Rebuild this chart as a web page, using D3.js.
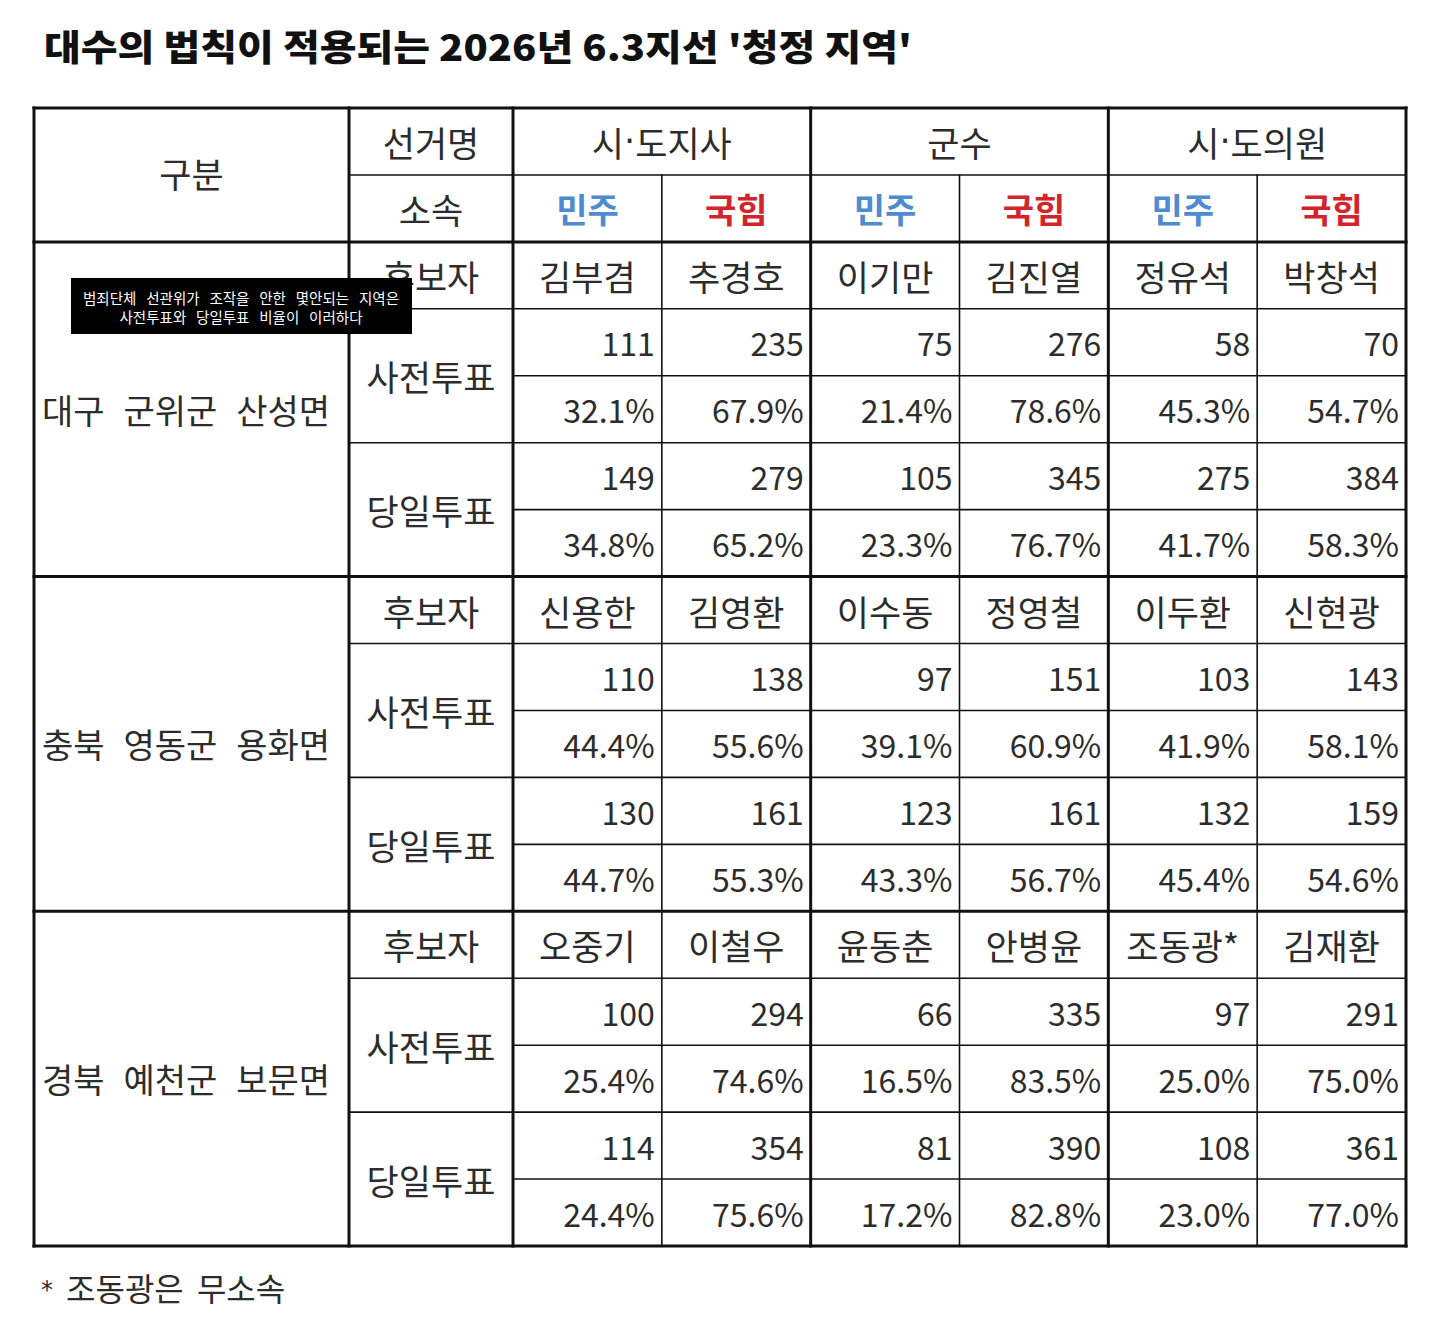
<!DOCTYPE html>
<html><head><meta charset="utf-8">
<script src="https://cdn.jsdelivr.net/npm/d3@7"></script>
<style>html,body{margin:0;padding:0;background:#fff;}svg{display:block;}</style>
</head><body>
<svg id="chart" width="1439" height="1329"></svg>
<script>
const title = "대수의 법칙이 적용되는 2026년 6.3지선 '청정 지역'";
const headerLabels = ["구분", "선거명", "소속"];
const elections = ["시·도지사", "군수", "시·도의원"];
const parties = ["민주", "국힘"];
const rowLabels = ["후보자", "사전투표", "당일투표"];
const regions = ["대구 군위군 산성면", "충북 영동군 용화면", "경북 예천군 보문면"];
const candidates = [
  ["김부겸", "추경호", "이기만", "김진열", "정유석", "박창석"],
  ["신용한", "김영환", "이수동", "정영철", "이두환", "신현광"],
  ["오중기", "이철우", "윤동춘", "안병윤", "조동광*", "김재환"]
];
const earlyVotes = [
  [111, 235, 75, 276, 58, 70],
  [110, 138, 97, 151, 103, 143],
  [100, 294, 66, 335, 97, 291]
];
const earlyPct = [
  [32.1, 67.9, 21.4, 78.6, 45.3, 54.7],
  [44.4, 55.6, 39.1, 60.9, 41.9, 58.1],
  [25.4, 74.6, 16.5, 83.5, 25.0, 75.0]
];
const dayVotes = [
  [149, 279, 105, 345, 275, 384],
  [130, 161, 123, 161, 132, 159],
  [114, 354, 81, 390, 108, 361]
];
const dayPct = [
  [34.8, 65.2, 23.3, 76.7, 41.7, 58.3],
  [44.7, 55.3, 43.3, 56.7, 45.4, 54.6],
  [24.4, 75.6, 17.2, 82.8, 23.0, 77.0]
];
const annotation = ["범죄단체 선관위가 조작을 안한 몇안되는 지역은", "사전투표와 당일투표 비율이 이러하다"];
const footnote = "* 조동광은 무소속";

const svg = d3.select("#chart");
const FONT = "'Noto Sans CJK KR','Noto Sans',sans-serif";
const TXT = "#2c2c2c";
const BLUE = "#4f8bd0";
const RED = "#d3242c";
const HANGUL = 35, NUM = 32;

// scales
const nRows = 2 + regions.length * 5;
const y = d3.scaleLinear().domain([0, nRows]).range([108, 1246]);
const xLab = d3.scaleOrdinal().domain(["region", "label", "data"]).range([34, 349, 513]);
const xData = d3.scaleBand().domain(d3.range(6)).range([513, 1406]);
const xElec = d3.scaleBand().domain(elections).range([513, 1406]);
const LEFT = 34, RIGHT = 1406;

function fitWords(sel, target) {
  sel.each(function () {
    const len = this.getComputedTextLength();
    const n = d3.select(this).text().split(" ").length - 1;
    if (n > 0) d3.select(this).attr("word-spacing", (target - len) / n);
  });
}

// title
svg.append("text").attr("x", 44).attr("y", 61)
  .attr("font-family", FONT).attr("font-weight", 900).attr("font-size", 36)
  .attr("fill", "#111")
  .attr("textLength", 868).attr("lengthAdjust", "spacingAndGlyphs")
  .text(title);

const cells = svg.append("g").attr("font-family", FONT).attr("fill", TXT);
function txt(x, yy, s, opts = {}) {
  return cells.append("text").attr("x", x).attr("y", yy)
    .attr("text-anchor", opts.anchor || "middle")
    .attr("dominant-baseline", "central")
    .attr("font-size", opts.size || HANGUL)
    .attr("font-weight", opts.weight || 400)
    .attr("fill", opts.fill || TXT)
    .text(s);
}
function dotted(x, yy, s) {
  const t = cells.append("text").attr("x", x).attr("y", yy)
    .attr("text-anchor", "middle").attr("dominant-baseline", "central")
    .attr("font-size", HANGUL).attr("fill", TXT);
  s.split("·").forEach((part, i) => {
    if (i > 0) t.append("tspan").attr("font-family", "'DejaVu Sans'").text("·");
    t.append("tspan").text(part);
  });
  return t;
}
const mid = (a, b) => (a + b) / 2;

// header
txt(mid(xLab("region"), xLab("label")), mid(y(0), y(2)) - 2, headerLabels[0]);
txt(mid(xLab("label"), xLab("data")), mid(y(0), y(1)), headerLabels[1]);
txt(mid(xLab("label"), xLab("data")), mid(y(1), y(2)), headerLabels[2]);
elections.forEach(e => dotted(xElec(e) + xElec.bandwidth() / 2, mid(y(0), y(1)), e));
d3.range(6).forEach(i => {
  const p = parties[i % 2];
  txt(xData(i) + xData.bandwidth() / 2, mid(y(1), y(2)), p,
    { weight: 700, size: 34, fill: p === "민주" ? BLUE : RED });
});

// body
const pad = 7;
regions.forEach((reg, g) => {
  const r0 = 2 + g * 5;
  txt(xLab("region") + 8, mid(y(r0), y(r0 + 5)), reg, { anchor: "start", size: 34 }).attr("class", "region");
  txt(mid(xLab("label"), xLab("data")), mid(y(r0), y(r0 + 1)), rowLabels[0]);
  txt(mid(xLab("label"), xLab("data")), mid(y(r0 + 1), y(r0 + 3)), rowLabels[1]);
  txt(mid(xLab("label"), xLab("data")), mid(y(r0 + 3), y(r0 + 5)), rowLabels[2]);
  d3.range(6).forEach(i => {
    const xr = xData(i) + xData.bandwidth() - pad;
    txt(xData(i) + xData.bandwidth() / 2, mid(y(r0), y(r0 + 1)), candidates[g][i]);
    txt(xr, mid(y(r0 + 1), y(r0 + 2)), d3.format("d")(earlyVotes[g][i]), { anchor: "end", size: NUM });
    txt(xr, mid(y(r0 + 2), y(r0 + 3)), d3.format(".1f")(earlyPct[g][i]) + "%", { anchor: "end", size: NUM });
    txt(xr, mid(y(r0 + 3), y(r0 + 4)), d3.format("d")(dayVotes[g][i]), { anchor: "end", size: NUM });
    txt(xr, mid(y(r0 + 4), y(r0 + 5)), d3.format(".1f")(dayPct[g][i]) + "%", { anchor: "end", size: NUM });
  });
});
fitWords(cells.selectAll("text.region"), 288);

// grid lines
const lines = svg.append("g").attr("stroke", "#111").attr("stroke-linecap", "square");
const THICK = 3, THIN = 1.6;
function hl(r, x0, w) { lines.append("line").attr("x1", x0).attr("x2", RIGHT).attr("y1", y(r)).attr("y2", y(r)).attr("stroke-width", w); }
function vl(x, r0, r1, w) { lines.append("line").attr("x1", x).attr("x2", x).attr("y1", y(r0)).attr("y2", y(r1)).attr("stroke-width", w); }
hl(1, xLab("label"), THIN);
regions.forEach((reg, g) => {
  const r0 = 2 + g * 5;
  hl(r0 + 1, xLab("label"), THIN);
  hl(r0 + 2, xLab("data"), THIN);
  hl(r0 + 3, xLab("label"), THIN);
  hl(r0 + 4, xLab("data"), THIN);
});
[1, 3, 5].forEach(i => vl(xData(i), 1, nRows, THIN));
hl(0, LEFT, THICK); hl(2, LEFT, THICK);
regions.forEach((reg, g) => hl(2 + g * 5 + 5, LEFT, THICK));
vl(LEFT, 0, nRows, THICK);
vl(xLab("label"), 0, nRows, THICK);
vl(xLab("data"), 0, nRows, THICK);
[2, 4].forEach(i => vl(xData(i), 0, nRows, THICK));
vl(RIGHT, 0, nRows, THICK);

// annotation box
const ann = svg.append("g");
ann.append("rect").attr("x", 71).attr("y", 278).attr("width", 341).attr("height", 56).attr("fill", "#000");
const annT = ann.selectAll("text").data(annotation).join("text")
  .attr("x", 241).attr("y", (d, i) => 297 + i * 19)
  .attr("text-anchor", "middle").attr("dominant-baseline", "central")
  .attr("font-family", FONT).attr("font-size", 14.5).attr("fill", "#fff")
  .text(d => d);
fitWords(annT.filter((d, i) => i === 0), 316);
annT.filter((d, i) => i === 1).attr("word-spacing", annT.filter((d, i) => i === 0).attr("word-spacing"));

// footnote: small asterisk marker, then the note text
const fnMarker = footnote.slice(0, 1);
const fnText = footnote.slice(2);
svg.append("text").attr("x", 41).attr("y", 1290).attr("dominant-baseline", "central")
  .attr("font-family", "'DejaVu Sans'").attr("font-size", 24).attr("fill", TXT).text(fnMarker);
svg.append("text").attr("x", 66).attr("y", 1287).attr("dominant-baseline", "central")
  .attr("font-family", FONT).attr("font-size", 32).attr("fill", TXT)
  .attr("word-spacing", 6).text(fnText);
</script>
</body></html>
